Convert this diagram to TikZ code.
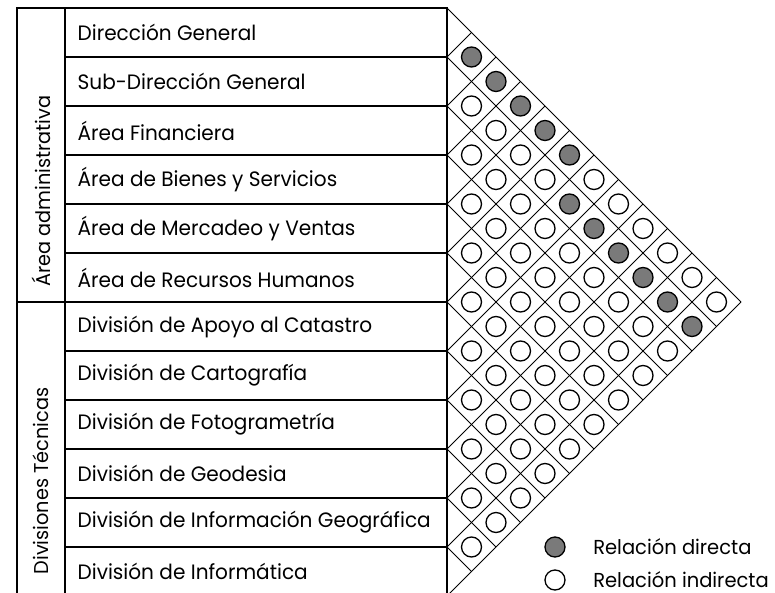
\documentclass[tikz,border=0pt]{standalone}
\usepackage{fontspec}
\setmainfont{Poppins}[FakeStretch=0.965]
\usetikzlibrary{positioning}

\tikzset{
  rowlabel/.style={anchor=west, inner sep=0pt, font=\fontsize{10.4}{13}\selectfont},
  grouplabel/.style={rotate=90, inner sep=0pt, font=\fontsize{10}{12}\selectfont},
  rel/.style={circle, draw, minimum size=10pt, inner sep=0pt, fill=white},
  relfill/.style={rel, fill=black!52},
  keylabel/.style={anchor=west, inner sep=0pt, font=\fontsize{10.1}{12}\selectfont},
  gridline/.style={line width=0.5pt},
}

\begin{document}
\begin{tikzpicture}[x=0.5pt, y=-0.5pt, line width=0.65pt]
  \clip (0,0) rectangle (775,593);
  \def\rh{49}
  \def\hc{24.5}

  % left table
  \draw (17,596) -- (17,8) -- (447,8) -- (447,596);
  \draw (65,8) -- (65,596);
  \draw (17,302) -- (447,302);
  \foreach \k in {1,...,12}
    \draw (65,{8+\rh*\k}) -- (447,{8+\rh*\k});

  \node[grouplabel] (admin) at (41,191) {Área administrativa};
  \node[grouplabel] (tecnicas) at (41,481) {Divisiones Técnicas};

  \foreach \txt [count=\i from 0] in {Dirección General, Sub-Dirección General,
      Área Financiera, Área de Bienes y Servicios, Área de Mercadeo y Ventas,
      Área de Recursos Humanos, División de Apoyo al Catastro,
      División de Cartografía, División de Fotogrametría, División de Geodesia,
      División de Información Geográfica, División de Informática}
    \node[rowlabel] (r\i) at (77,{8+\rh*(\i+0.5)}) {\txt};

  % roof
  \foreach \k in {0,...,11}
    \draw[gridline] (447,{8+\rh*\k}) -- ({447+\hc*(12-\k)},{8+\rh*\k+\hc*(12-\k)});
  \foreach \k in {1,...,12}
    \draw[gridline] (447,{8+\rh*\k}) -- ({447+\hc*\k},{8+\hc*\k});

  % relaciones
  \foreach \b in {2,...,22}
    \foreach \a in {1,...,11} {
      \pgfmathtruncatemacro\inside{(\a<\b) && (\a+\b<24) && (mod(\a+\b,2)==1)}
      \pgfmathtruncatemacro\direct{((\b-\a==1) && (\a<6)) || ((\b-\a==3) && (\a>4))}
      \ifnum\inside=1
        \ifnum\direct=1
          \node[relfill] (c\a-\b) at ({447+\hc*\a},{8+\hc*\b}) {};
        \else
          \node[rel] (c\a-\b) at ({447+\hc*\a},{8+\hc*\b}) {};
        \fi
      \fi
    }

  % leyenda
  \node[relfill] (keyd) at (555,547) {};
  \node[rel] (keyi) at (555,580) {};
  \node[keylabel, right=13.5pt of keyd] (keydtxt) {Relación directa};
  \node[keylabel, right=13.5pt of keyi] (keyitxt) {Relación indirecta};
\end{tikzpicture}
\end{document}
